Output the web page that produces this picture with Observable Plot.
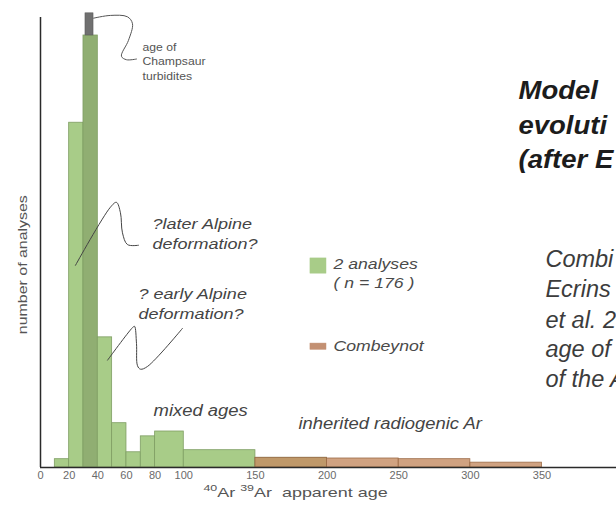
<!DOCTYPE html>
<html><head><meta charset="utf-8">
<script src="https://cdn.jsdelivr.net/npm/d3@7"></script>
<script src="https://cdn.jsdelivr.net/npm/@observablehq/plot@0.6"></script>
<style>
html,body{margin:0;padding:0;background:#fff;overflow:hidden;width:616px;height:507px;}
#chart svg{display:block;overflow:hidden;}
</style></head><body><div id="chart"></div>
<script>
// ---- data ----
const binStart = [10, 20, 30, 40, 50, 60, 70, 80, 100, 150];
const binEnd   = [20, 30, 40, 50, 60, 70, 80, 100, 150, 200];
const analyses = [1.2, 49.8, 62.4, 18.8, 6.4, 2.2, 4.5, 5.2, 2.5, 1.4];   // number of analyses (per 10 Ma)
const combStart = [150, 200, 250, 300];
const combEnd   = [200, 250, 300, 350];
const combeynot = [1.4, 1.3, 1.2, 0.7];
const xTicks = [0, 20, 40, 60, 80, 100, 150, 200, 250, 300, 350];
const champsaurAge = [31.4, 37];          // age band of Champsaur turbidites (Ma)
const champsaurBar = [62.4, 65.6];

// ---- annotations (data coordinates) ----
const champsaurText = ["age of", "Champsaur", "turbidites"];
const champsaurTextAt = [[71.2, 60.1], [71.2, 58.1], [71.2, 56.0]];
const champsaurLink = [[37.0,64.9],[48.8,65.3],[60.7,65.1],[64.2,64.1],[61.4,61.7],[56.5,59.4],[60.0,58.9],[67.0,59.0]];
const laterText = ["?later Alpine", "deformation?"];
const laterTextAt = [[78.2, 34.5], [78.2, 31.5]];
const laterLink = [[24.4,29.2],[48.8,37.6],[53.0,38.3],[55.8,36.8],[57.2,33.9],[60.7,32.2],[68.4,32.1]];
const earlyText = ["? early Alpine", "deformation?"];
const earlyTextAt = [[68.4, 24.4], [68.4, 21.4]];
const earlyLink = [[46.8,15.5],[64.2,20.2],[65.6,20.4],[67.0,17.9],[67.7,14.7],[69.8,14.2],[74.7,14.6],[99.1,20.1]];
const groupText = ["mixed ages", "inherited radiogenic Ar"];
const groupTextAt = [[78.9, 7.5], [180.0, 5.6]];
const legendText = ["2 analyses", "( n = 176 )", "Combeynot"];
const legendTextAt = [[204.5, 28.7], [204.5, 25.9], [204.5, 16.8]];
const legendSwatch = [
  {x1: 188.4, x2: 199.6, y1: 28.0, y2: 30.2, fill: "#a8cc88"},
  {x1: 188.4, x2: 199.6, y1: 17.0, y2: 17.9, fill: "#c39072"}
];
const titleText = ["Model", "evoluti", "(after E"];
const titleAt = [[333.6, 53.3], [333.6, 48.2], [333.6, 43.3]];
const noteText = ["Combi", "Ecrins", "et al. 2", "age of", "of the A"];
const noteAt = [[352.4, 28.9], [352.4, 24.6], [352.4, 20.2], [352.4, 15.9], [352.4, 11.6]];
const xLabelParts = [["40", true], ["Ar ", false], ["39", true], ["Ar  apparent age", false]];
const xLabelAt = [113.7, -4.19];
const yLabel = "number of analyses";
const yLabelAt = [-9.1, 29.3];

const hist = binStart.map((x1, i) => ({x1, x2: binEnd[i], n: analyses[i]}));
const comb = combStart.map((x1, i) => ({x1, x2: combEnd[i], n: combeynot[i]}));
const pts = (texts, at) => texts.map((t, i) => ({t, x: at[i][0], y: at[i][1]}));

const light = "#a8cc88", dark = "#90ae72";
const font = "'Liberation Sans', Arial, Helvetica, sans-serif";

const chart = Plot.plot({
  width: 616, height: 507,
  marginLeft: 40, marginRight: 0, marginTop: 17, marginBottom: 40,
  style: {fontFamily: font, background: "#fff", overflow: "hidden"},
  x: {domain: [0, 402]},
  y: {domain: [0, 65], axis: null},
  marks: [
    Plot.rectY(hist, {x1: "x1", x2: "x2", y: "n", fill: d => d.x1 === 30 ? dark : light, stroke: "#7f9e63", strokeWidth: 0.8}),
    Plot.rectY(comb, {x1: "x1", x2: "x2", y: "n", fill: "#c48b62", fillOpacity: 0.8, stroke: "#9c6b48", strokeWidth: 0.8}),
    Plot.rect([0], {x1: champsaurAge[0], x2: champsaurAge[1], y1: champsaurBar[0], y2: champsaurBar[1], fill: "#707070", stroke: "#5a5a5a", strokeWidth: 0.6}),
    Plot.ruleY([0], {stroke: "#2a2a2a", strokeWidth: 1.5}),
    Plot.ruleX([0], {y1: 0, y2: 65, stroke: "#2a2a2a", strokeWidth: 1.5}),
    Plot.axisX(xTicks, {tickSize: 0, tickPadding: 4, fontSize: 11, fill: "#6a6a6a", label: null, tickFormat: d => String(d)}),
    // connectors
    Plot.line(champsaurLink, {x: d => d[0], y: d => d[1], curve: "catmull-rom", stroke: "#555", strokeWidth: 1}),
    Plot.line(laterLink, {x: d => d[0], y: d => d[1], curve: "catmull-rom", stroke: "#444", strokeWidth: 1}),
    Plot.line(earlyLink, {x: d => d[0], y: d => d[1], curve: "catmull-rom", stroke: "#444", strokeWidth: 1}),
    // legend
    Plot.rect(legendSwatch, {x1: "x1", x2: "x2", y1: "y1", y2: "y2", fill: "fill", stroke: d => d.fill, strokeWidth: 0.5}),
    Plot.text(pts(legendText, legendTextAt), {x: "x", y: "y", text: "t", textAnchor: "start", lineAnchor: "bottom", fontSize: 14, fontStyle: "italic", fill: "#4a4a4a"}),
    // annotation texts
    Plot.text(pts(champsaurText, champsaurTextAt), {x: "x", y: "y", text: "t", textAnchor: "start", lineAnchor: "bottom", fontSize: 11.5, fill: "#555"}),
    Plot.text(pts(laterText, laterTextAt).concat(pts(earlyText, earlyTextAt)), {x: "x", y: "y", text: "t", textAnchor: "start", lineAnchor: "bottom", fontSize: 15, fontStyle: "italic", fill: "#444"}),
    Plot.text(pts(groupText, groupTextAt), {x: "x", y: "y", text: "t", textAnchor: "start", lineAnchor: "bottom", fontSize: 16, fontStyle: "italic", fill: "#444"}),
    Plot.text(pts(titleText, titleAt), {x: "x", y: "y", text: "t", textAnchor: "start", lineAnchor: "bottom", fontSize: 25, fontStyle: "italic", fontWeight: "bold", fill: "#1c1c1c"}),
    Plot.text(pts(noteText, noteAt), {x: "x", y: "y", text: "t", textAnchor: "start", lineAnchor: "bottom", fontSize: 23.5, fontStyle: "italic", fill: "#3c3c3c"}),
    // axis labels
    Plot.text([xLabelParts.map(p => p[0]).join("")], {x: xLabelAt[0], y: xLabelAt[1], textAnchor: "start", lineAnchor: "bottom", fontSize: 13, fill: "#555"}),
    Plot.text([yLabel], {x: yLabelAt[0], y: yLabelAt[1], rotate: -90, textAnchor: "middle", lineAnchor: "bottom", fontSize: 13.5, fill: "#555"})
  ]
});

document.getElementById("chart").append(chart);

// x label with superscripts
const joined = xLabelParts.map(p => p[0]).join("");
chart.querySelectorAll("text").forEach(t => {
  if (t.textContent === joined) {
    t.textContent = "";
    xLabelParts.forEach(([s, sup], i) => {
      const ts = document.createElementNS("http://www.w3.org/2000/svg", "tspan");
      ts.textContent = s;
      if (sup) { ts.setAttribute("font-size", "9"); ts.setAttribute("dy", "-6"); }
      else if (i > 0) { ts.setAttribute("dy", "6"); }
      t.append(ts);
    });
  }
});

// horizontal stretch of the scanned lettering
const K = {25: 1.1, 15: 1.2, 16: 1.15, 11.5: 1.06, 14: 1.26, 13.5: 1.18, 13: 1.38};
chart.querySelectorAll("g[font-size]").forEach(g => {
  const k = K[parseFloat(g.getAttribute("font-size"))];
  if (!k) return;
  g.querySelectorAll("text").forEach(t => {
    const len = t.getComputedTextLength();
    t.setAttribute("textLength", (len * k).toFixed(1));
    t.setAttribute("lengthAdjust", "spacingAndGlyphs");
  });
});
</script></body></html>
